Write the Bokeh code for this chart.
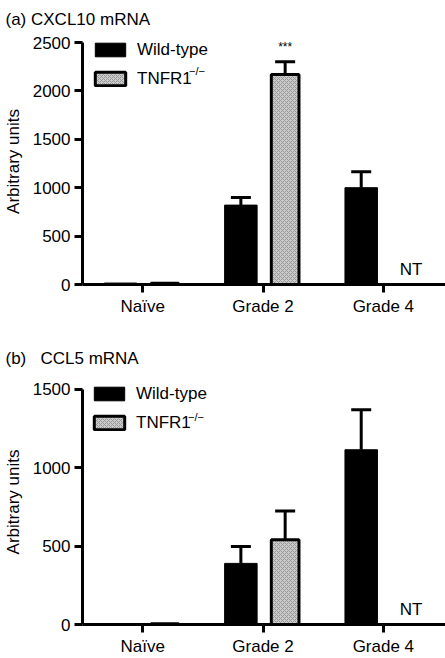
import math
from bokeh.plotting import figure
from bokeh.layouts import column
from bokeh.models import (Range1d, FixedTicker, Whisker, TeeHead, Legend, LegendItem,
                          Label, ColumnDataSource)
from bokeh.embed import file_html
from bokeh.resources import INLINE

# ---------------- data ----------------
categories = ["Naïve", "Grade 2", "Grade 4"]

a_wildtype = [15, 820, 1000]
a_wildtype_sem = [0, 80, 165]
a_tnfr1 = [12, 2170, float("nan")]
a_tnfr1_sem = [0, 130, float("nan")]
a_yticks = [0, 500, 1000, 1500, 2000, 2500]

b_wildtype = [3, 390, 1115]
b_wildtype_sem = [0, 108, 255]
b_tnfr1 = [4, 540, float("nan")]
b_tnfr1_sem = [0, 185, float("nan")]
b_yticks = [0, 500, 1000, 1500]

FONT = "Liberation Sans"
W = 445
FRAME_L = 77
PX_CAT = 122.0
X_START = 0.5
X_END = X_START + (W - FRAME_L) / PX_CAT
OFF = 0.184
BAR_W = 0.27
TN_W = 0.23
ITEM_H = 20
SPACING = 9


def px2x(px):
    return X_START + (px - FRAME_L) / PX_CAT


def make_panel(title, title_standoff, title_lh, extra, wt, wt_sem, tn, tn_sem, yticks,
               height, ytop_px, y0_px, legend_dx, box_top):
    ymax = yticks[-1]
    core = y0_px - ytop_px
    per_px = ymax / core
    top = ytop_px - extra
    bottom = height - y0_px

    def py(fig_px):
        return (y0_px - fig_px) * per_px

    p = figure(width=W, height=height, output_backend="svg", toolbar_location=None,
               x_range=Range1d(X_START, X_END),
               y_range=Range1d(0, ymax + extra * per_px),
               min_border_left=FRAME_L, min_border_right=0,
               min_border_top=top, min_border_bottom=bottom)
    p.outline_line_color = None
    p.grid.visible = False

    p.title.text = title
    p.title.align = "left"
    p.title.vertical_align = "top"
    p.title.offset = -FRAME_L
    p.title.standoff = title_standoff
    p.title.text_line_height = title_lh
    p.title.text_font = FONT
    p.title.text_font_size = "17px"
    p.title.text_font_style = "normal"
    p.title.text_color = "black"

    xs = [i + 1 for i in range(len(categories))]
    wt_src = ColumnDataSource(dict(x=[x - OFF for x in xs], top=wt))
    tn_keep = [i for i, v in enumerate(tn) if not math.isnan(v)]
    tn_src = ColumnDataSource(dict(x=[xs[i] + OFF for i in tn_keep],
                                   top=[tn[i] for i in tn_keep]))

    r_wt = p.vbar(x="x", top="top", width=BAR_W, bottom=0, source=wt_src,
                  fill_color="black", line_color="black", line_width=1)
    r_tn = p.vbar(x="x", top="top", width=TN_W, bottom=0, source=tn_src,
                  fill_color="#cbcbcb", line_color="black", line_width=3,
                  hatch_pattern="diagonal_cross", hatch_color="#979797",
                  hatch_scale=4, hatch_weight=1)

    ex, lo, up = [], [], []
    for i, x in enumerate(xs):
        if wt_sem[i] and not math.isnan(wt_sem[i]):
            ex.append(x - OFF); lo.append(wt[i]); up.append(wt[i] + wt_sem[i])
        if not math.isnan(tn_sem[i]) and tn_sem[i]:
            ex.append(x + OFF); lo.append(tn[i]); up.append(tn[i] + tn_sem[i])
    esrc = ColumnDataSource(dict(base=ex, lower=lo, upper=up))
    p.add_layout(Whisker(source=esrc, base="base", lower="lower", upper="upper",
                         dimension="height", line_width=3, line_color="black",
                         lower_head=None,
                         upper_head=TeeHead(size=20, line_width=3, line_color="black"),
                         level="overlay"))

    # axes
    for ax in (p.xaxis[0], p.yaxis[0]):
        ax.axis_line_width = 3
        ax.axis_line_color = "black"
        ax.major_tick_line_width = 3
        ax.major_tick_line_color = "black"
        ax.major_tick_out = 8
        ax.major_tick_in = 0
        ax.minor_tick_line_color = None
        ax.major_label_text_font = FONT
        ax.major_label_text_font_size = "17px"
        ax.major_label_text_color = "black"
    p.xaxis.ticker = FixedTicker(ticks=xs)
    p.xaxis.major_label_overrides = {x: c for x, c in zip(xs, categories)}
    p.xaxis.major_label_standoff = 4
    p.yaxis.ticker = FixedTicker(ticks=yticks)
    p.yaxis.bounds = (0, ymax)
    p.yaxis.major_label_standoff = 4
    p.yaxis.axis_label = "Arbitrary units"
    p.yaxis.axis_label_text_font = FONT
    p.yaxis.axis_label_text_font_size = "17px"
    p.yaxis.axis_label_text_font_style = "normal"
    p.yaxis.axis_label_text_color = "black"
    p.yaxis.axis_label_standoff = 7

    # legend
    leg_top = box_top - (ITEM_H - 17) / 2.0
    leg_h = 2 * ITEM_H + SPACING
    leg = Legend(items=[LegendItem(label="Wild-type", renderers=[r_wt]),
                        LegendItem(label="TNFR1", renderers=[r_tn])],
                 location=(legend_dx, y0_px - (leg_top + leg_h)),
                 border_line_color=None, background_fill_alpha=0,
                 padding=0, margin=0, spacing=SPACING, glyph_width=38, glyph_height=17,
                 label_standoff=8, label_height=17,
                 label_text_font=FONT, label_text_font_size="17px",
                 label_text_color="black")
    p.add_layout(leg)
    tn_center = box_top + ITEM_H + SPACING + 8.5
    p.add_layout(Label(x=px2x(FRAME_L + legend_dx + 38 + 8 + 53),
                       y=py(tn_center - 8), text="\u2212/\u2212",
                       text_font=FONT, text_font_size="11px", text_color="black",
                       text_baseline="middle", text_align="left"))

    p.add_layout(Label(x=3.23, y=py(y0_px - 6), text="NT", text_font=FONT,
                       text_font_size="17px", text_color="black",
                       text_baseline="bottom", text_align="center"))
    return p, py


pa, pya = make_panel("(a) CXCL10 mRNA", 15, 0.6, 4, a_wildtype, a_wildtype_sem, a_tnfr1,
                     a_tnfr1_sem, a_yticks, height=322, ytop_px=42, y0_px=284,
                     legend_dx=9, box_top=41)
pa.add_layout(Label(x=2 + OFF, y=pya(46), text="***", text_font=FONT,
                    text_font_size="12px", text_color="black",
                    text_baseline="middle", text_align="center"))

pb, pyb = make_panel("(b)\u00a0\u00a0\u00a0CCL5 mRNA", 19, 1.2, 10, b_wildtype,
                     b_wildtype_sem, b_tnfr1, b_tnfr1_sem, b_yticks, height=336,
                     ytop_px=67, y0_px=304, legend_dx=8, box_top=65)

layout = column(pa, pb, spacing=0)
open("out.html", "w").write(file_html(layout, INLINE))
